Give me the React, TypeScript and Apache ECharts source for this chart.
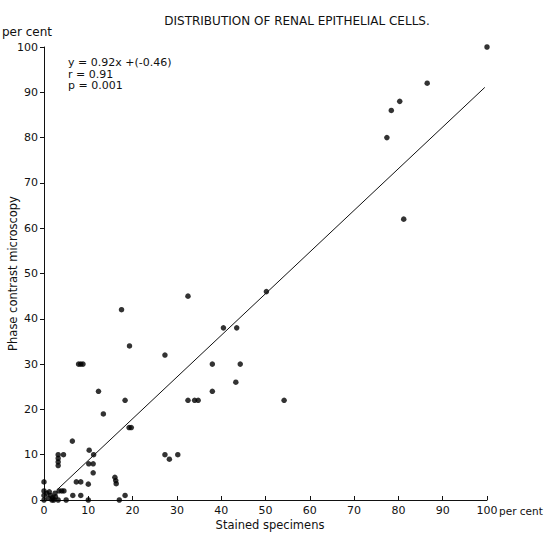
import React, { useEffect, useRef } from "react";
import * as echarts from "echarts";

// Stained specimens (%) – x values
const stainedX = [
  100, 86.5, 80.3, 78.4, 77.4, 81.2, 50.2, 32.5, 17.5, 40.5,
  43.5, 19.3, 27.3, 7.8, 8.3, 8.8, 38, 44.3, 43.3, 12.3,
  38, 18.3, 32.5, 34, 34.8, 54.2, 13.4, 19.2, 19.7, 6.4,
  10.2, 11.2, 3.2, 3.2, 3.2, 3.2, 4.4, 10.1, 11.1, 11.1,
  27.3, 28.3, 30.2, 16, 16.2, 16.3, 7.3, 8.3, 10, 18.3,
  17, 10, 6.5, 8.3, 5, 3.2, 3.4, 4, 4.5, 2.5,
  0, 0, 0, 0, 0.6, 1.2, 1.5, 2, 2.2, 1,
  2.6, 1.8,
];
// Phase contrast microscopy (%) – y values
const phaseY = [
  100, 92, 88, 86, 80, 62, 46, 45, 42, 38,
  38, 34, 32, 30, 30, 30, 30, 30, 26, 24,
  24, 22, 22, 22, 22, 22, 19, 16, 16, 13,
  11, 10, 10, 9.2, 8.4, 7.6, 10, 8, 8, 6,
  10, 9, 10, 5, 4.3, 3.6, 4, 4, 3.5, 1,
  0, 0, 1, 1, 0, 0, 2, 2, 2, 1.5,
  4, 2, 1, 0, 1.5, 1.8, 1, 0.5, 0, 0.4,
  0.7, 0,
];
// Regression line y = 0.92x + (-0.46), drawn between these x values
const regSlope = 0.92;
const regIntercept = -0.46;
const regXRange = [3, 99.5];
const statLines = ["y = 0.92x +(-0.46)", "r = 0.91", "p = 0.001"];

const FONT = "DejaVu Sans";

export default function App() {
  const ref = useRef<HTMLDivElement>(null);
  useEffect(() => {
    if (!ref.current) return;
    const chart = echarts.init(ref.current, null, { renderer: "svg" });
    const points = stainedX.map((x, i) => [x, phaseY[i]]);
    const reg = regXRange.map((x) => [x, regSlope * x + regIntercept]);
    chart.setOption({
      animation: false,
      backgroundColor: "#ffffff",
      title: {
        text: "DISTRIBUTION OF RENAL EPITHELIAL CELLS.",
        left: 292,
        top: 10,
        textAlign: "center",
        textStyle: { fontFamily: FONT, fontSize: 12, fontWeight: "normal", color: "#111" },
      },
      grid: {
        left: 44,
        top: 47,
        width: 443,
        height: 453,
        containLabel: false,
        outerBoundsMode: "none",
      },
      xAxis: {
        type: "value",
        min: 0,
        max: 100,
        interval: 10,
        name: "Stained specimens",
        nameLocation: "middle",
        nameGap: 19,
        nameMoveOverlap: false,
        nameTextStyle: { fontFamily: FONT, fontSize: 11.5, color: "#111", padding: [0, 0, 0, 9] },
        axisLine: { lineStyle: { color: "#111", width: 1 } },
        axisTick: { inside: true, length: 4, lineStyle: { color: "#111" } },
        axisLabel: { fontFamily: FONT, fontSize: 11, color: "#111", margin: 5 },
        splitLine: { show: false },
      },
      yAxis: {
        type: "value",
        min: 0,
        max: 100,
        interval: 10,
        name: "Phase contrast microscopy",
        nameLocation: "middle",
        nameGap: 25,
        nameMoveOverlap: false,
        nameTextStyle: { fontFamily: FONT, fontSize: 11.5, color: "#111" },
        axisLine: { show: true, lineStyle: { color: "#111", width: 1 } },
        axisTick: { show: true, length: 4, lineStyle: { color: "#111" } },
        axisLabel: { fontFamily: FONT, fontSize: 11, color: "#111", margin: 6 },
        splitLine: { show: false },
      },
      graphic: [
        {
          type: "text",
          left: 2,
          top: 26,
          style: { text: "per cent", font: `12px "${FONT}"`, fill: "#111" },
        },
        {
          type: "text",
          left: 499,
          top: 505,
          style: { text: "per cent", font: `10.5px "${FONT}"`, fill: "#111" },
        },
        ...statLines.map((t, i) => ({
          type: "text",
          left: 68,
          top: 57 + i * 11.5,
          style: { text: t, font: `11px "${FONT}"`, fill: "#111" },
        })),
      ],
      series: [
        {
          type: "line",
          data: reg,
          showSymbol: false,
          lineStyle: { color: "#111", width: 1 },
          silent: true,
        },
        {
          type: "scatter",
          data: points,
          symbol: "circle",
          symbolSize: 5.5,
          clip: false,
          itemStyle: { color: "#000" },
        },
      ],
    });
    return () => chart.dispose();
  }, []);
  return (
    <div
      ref={ref}
      style={{ position: "fixed", left: 0, top: 0, width: 546, height: 534 }}
    />
  );
}
